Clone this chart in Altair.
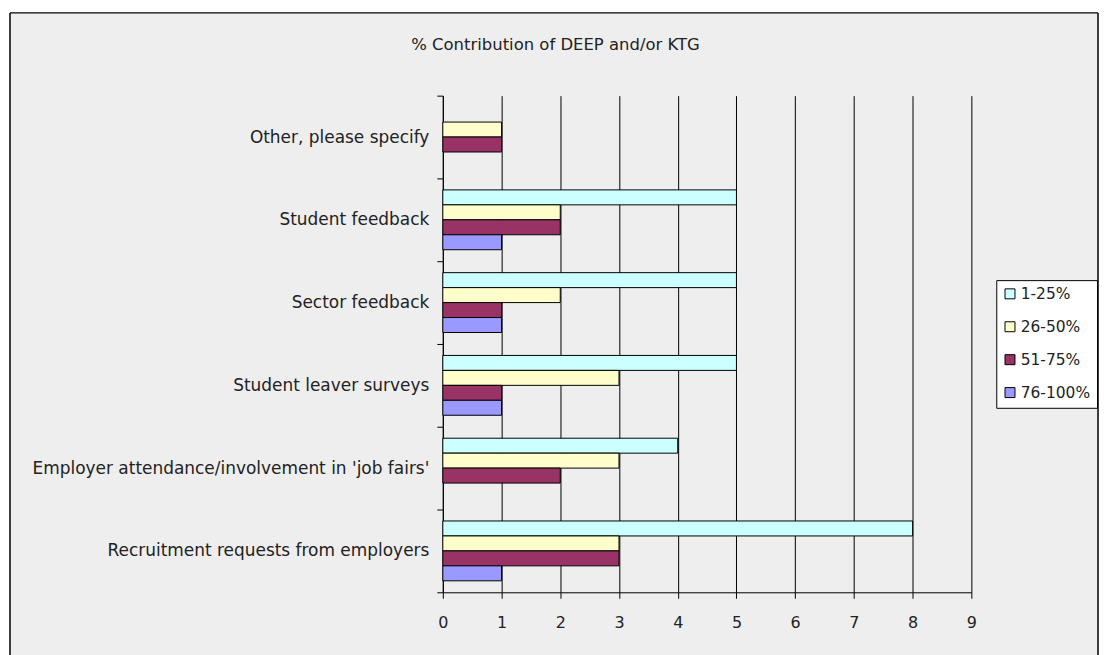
import altair as alt
import pandas as pd

categories = [
    "Other, please specify",
    "Student feedback",
    "Sector feedback",
    "Student leaver surveys",
    "Employer attendance/involvement in 'job fairs'",
    "Recruitment requests from employers",
]
series_names = ["1-25%", "26-50%", "51-75%", "76-100%"]
s_1_25 = [0, 5, 5, 5, 4, 8]
s_26_50 = [1, 2, 2, 3, 3, 3]
s_51_75 = [1, 2, 1, 1, 2, 3]
s_76_100 = [0, 1, 1, 1, 0, 1]
colors = ["#CCFFFF", "#FFFFCC", "#993366", "#9999FF"]
x_ticks = list(range(0, 10))
title_text = "% Contribution of DEEP and/or KTG"

rows = []
for name, vals in zip(series_names, [s_1_25, s_26_50, s_51_75, s_76_100]):
    for cat, v in zip(categories, vals):
        rows.append({"category": cat, "series": name, "value": v})
df = pd.DataFrame(rows)

FONT = "DejaVu Sans"

bars = alt.Chart(df).transform_filter("datum.value > 0").mark_bar(
    stroke="black", strokeWidth=1
).encode(
    x=alt.X("value:Q",
            scale=alt.Scale(domain=[0, 9], nice=False, zero=True),
            axis=alt.Axis(values=x_ticks, grid=True, gridColor="black", gridWidth=1,
                          tickSize=6, tickColor="black", domainColor="black",
                          labelFontSize=16, labelPadding=16, labelColor="#222",
                          labelFont=FONT, labelFlush=False, title=None)),
    y=alt.Y("category:N", sort=categories,
            scale=alt.Scale(paddingInner=0, paddingOuter=0),
            axis=alt.Axis(tickBand="extent", tickSize=6, tickColor="black",
                          domainColor="black", labelPadding=8, labelFontSize=17,
                          labelColor="#222", labelFont=FONT, labelLimit=600,
                          title=None, grid=False)),
    yOffset=alt.YOffset("series:N", sort=series_names,
                        scale=alt.Scale(domain=series_names, paddingInner=0, paddingOuter=0.767)),
    fill=alt.Fill("series:N", sort=series_names,
                  scale=alt.Scale(domain=series_names, range=colors),
                  legend=alt.Legend(title=None, orient="none", legendX=555, legendY=185,
                                    fillColor="white", strokeColor="black", padding=6,
                                    symbolType="square", symbolSize=100,
                                    symbolStrokeColor="black", symbolStrokeWidth=1,
                                    labelFontSize=15.5, labelFont=FONT, labelColor="#222",
                                    rowPadding=16, labelOffset=3)),
)

deco = pd.DataFrame({"k": [0]})
white_left = alt.Chart(deco).mark_rect(fill="white").encode(
    x=alt.value(-440), x2=alt.value(-434.5), y=alt.value(-100), y2=alt.value(700))
white_top = alt.Chart(deco).mark_rect(fill="white").encode(
    x=alt.value(-440), x2=alt.value(700), y=alt.value(-100), y2=alt.value(-83.5))
white_right = alt.Chart(deco).mark_rect(fill="white").encode(
    x=alt.value(657.5), x2=alt.value(700), y=alt.value(-100), y2=alt.value(700))
border_left = alt.Chart(deco).mark_rule(color="black", strokeWidth=1.5).encode(
    x=alt.value(-434), y=alt.value(-83), y2=alt.value(700))
border_top = alt.Chart(deco).mark_rule(color="black", strokeWidth=1.5).encode(
    x=alt.value(-434), x2=alt.value(657), y=alt.value(-83))
border_right = alt.Chart(deco).mark_rule(color="black", strokeWidth=1.5).encode(
    x=alt.value(657), y=alt.value(-83), y2=alt.value(700))
title = alt.Chart(deco).mark_text(font=FONT, fontSize=16.5, color="#222",
                                  align="center", baseline="middle").encode(
    x=alt.value(113), y=alt.value(-51), text=alt.value(title_text))

chart = alt.layer(
    white_left, white_top, white_right, bars, border_left, border_top, border_right, title
).properties(
    width=530, height=498,
    background="#EEEEEE",
    padding={"left": 436, "top": 87, "right": 128, "bottom": 62},
    autosize=alt.AutoSizeParams(type="none"),
).configure_view(stroke=None)

chart.save("out.html", embed_options={"renderer": "svg", "actions": False})
